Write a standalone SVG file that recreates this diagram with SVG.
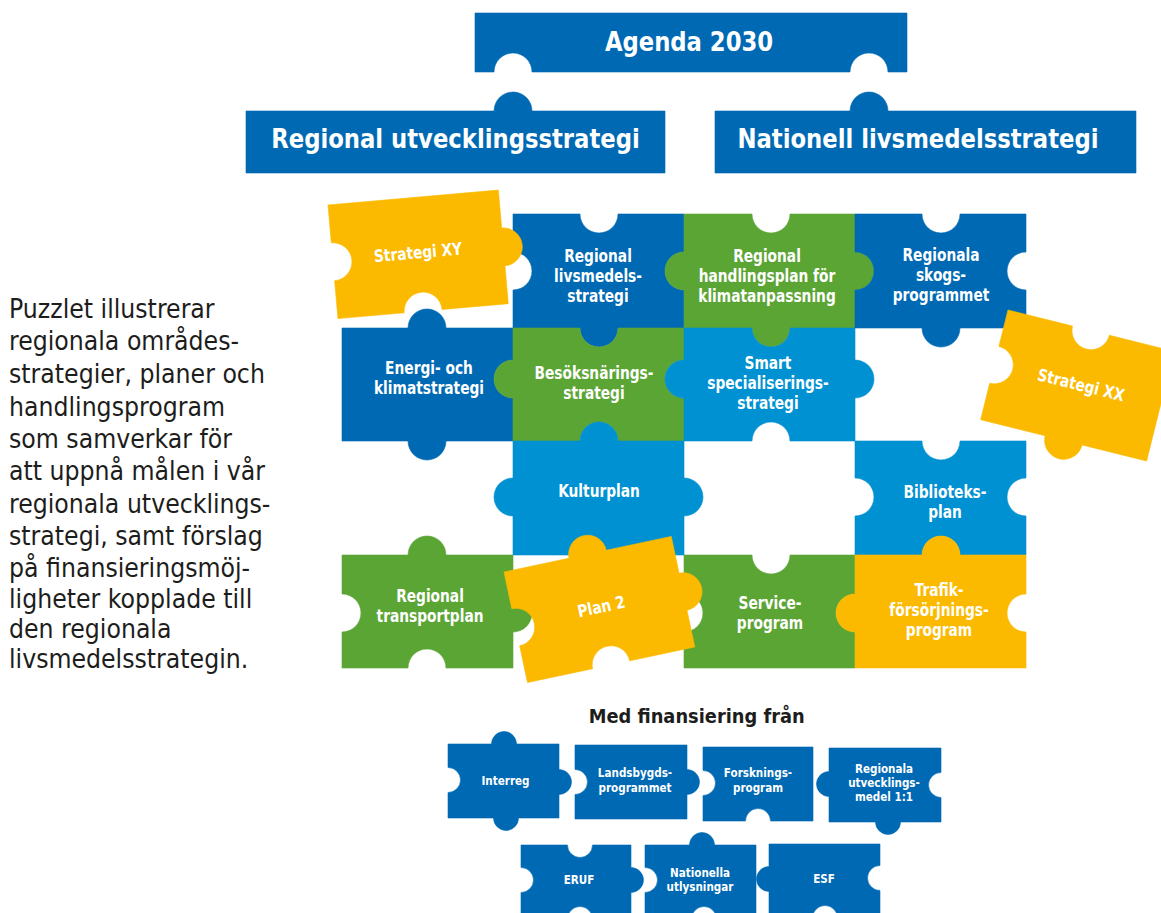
<svg xmlns="http://www.w3.org/2000/svg" width="1161" height="913" viewBox="0 0 1161 913">
<style>
.db{fill:#0069b4;stroke:#0069b4;stroke-width:.6}
.lb{fill:#0091d2;stroke:#0091d2;stroke-width:.6}
.gr{fill:#5ba535;stroke:#5ba535;stroke-width:.6}
.ye{fill:#fbba00;stroke:#fbba00;stroke-width:.6}
.t{font-family:"DejaVu Sans","Liberation Sans",sans-serif;font-weight:bold;fill:#fff;text-anchor:middle}
.big{font-size:26px}
.mid{font-size:17px}
.sm{font-size:13px}
.para{font-family:"DejaVu Sans","Liberation Sans",sans-serif;font-size:26.5px;fill:#1d1d1b}
.head{font-family:"DejaVu Sans","Liberation Sans",sans-serif;font-weight:bold;font-size:19.5px;fill:#1d1d1b;text-anchor:middle}
</style>
<rect width="1161" height="913" fill="#fff"/>

<g id="intro">
<text class="para" transform="translate(9 0) scale(.893 1)">
<tspan x="0" y="318">Puzzlet illustrerar</tspan>
<tspan x="0" y="350">regionala områdes-</tspan>
<tspan x="0" y="383">strategier, planer och</tspan>
<tspan x="0" y="416">handlingsprogram</tspan>
<tspan x="0" y="448">som samverkar för</tspan>
<tspan x="0" y="480">att uppnå målen i vår</tspan>
<tspan x="0" y="513">regionala utvecklings-</tspan>
<tspan x="0" y="545">strategi, samt förslag</tspan>
<tspan x="0" y="577">på finansieringsmöj-</tspan>
<tspan x="0" y="608">ligheter kopplade till</tspan>
<tspan x="0" y="638">den regionala</tspan>
<tspan x="0" y="668">livsmedelsstrategin.</tspan>
</text>
</g>

<g id="agenda2030">
<path class="db" d="M475 13 H907 V72 H888 A19 19 0 0 0 850 72 H532 A19 19 0 0 0 494 72 H475 Z"/>
<text class="t big" transform="translate(689 0) scale(.875 1)" x="0" y="51">Agenda 2030</text>
</g>
<g id="regional-utvecklingsstrategi">
<path class="db" d="M246 111 H494 A19 19 0 0 1 532 111 H665 V173 H246 Z"/>
<text class="t big" transform="translate(455.5 0) scale(.875 1)" x="0" y="148">Regional utvecklingsstrategi</text>
</g>
<g id="nationell-livsmedelsstrategi">
<path class="db" d="M715 111 H850 A19 19 0 0 1 888 111 H1136 V173 H715 Z"/>
<text class="t big" transform="translate(918 0) scale(.875 1)" x="0" y="148">Nationell livsmedelsstrategi</text>
</g>

<g id="connectors"></g>

<g id="regional-livsmedelsstrategi">
<path class="db" d="M513 214 H580 A19 19 0 0 0 618 214 H684 V252 A19 19 0 0 0 684 290 V328 H618 A19 19 0 0 1 580 328 H513 V290 A19 19 0 0 0 513 252 Z"/>
<text class="t mid" transform="translate(598 0) scale(.81 1)"><tspan x="0" y="262">Regional</tspan><tspan x="0" y="282">livsmedels-</tspan><tspan x="0" y="302">strategi</tspan></text>
</g>
<g id="handlingsplan-klimatanpassning">
<path class="gr" d="M684 214 H752 A19 19 0 0 0 790 214 H855 V252 A19 19 0 0 1 855 290 V328 H790 A19 19 0 0 1 752 328 H684 V290 A19 19 0 0 1 684 252 Z"/>
<text class="t mid" transform="translate(767 0) scale(.81 1)"><tspan x="0" y="262">Regional</tspan><tspan x="0" y="282">handlingsplan för</tspan><tspan x="0" y="302">klimatanpassning</tspan></text>
</g>
<g id="skogsprogrammet">
<path class="db" d="M855 214 H922 A19 19 0 0 0 960 214 H1026 V252 A19 19 0 0 0 1026 290 V328 H960 A19 19 0 0 1 922 328 H855 V290 A19 19 0 0 0 855 252 Z"/>
<text class="t mid" transform="translate(941 0) scale(.81 1)"><tspan x="0" y="261">Regionala</tspan><tspan x="0" y="281">skogs-</tspan><tspan x="0" y="301">programmet</tspan></text>
</g>
<g id="energi-klimatstrategi">
<path class="db" d="M342 328 H408 A19 19 0 0 1 446 328 H513 V360 A19 19 0 0 0 513 398 V441 H446 A19 19 0 0 1 408 441 H342 Z"/>
<text class="t mid" transform="translate(429 0) scale(.81 1)"><tspan x="0" y="374">Energi- och</tspan><tspan x="0" y="394">klimatstrategi</tspan></text>
</g>
<g id="besoksnaringsstrategi">
<path class="gr" d="M513 328 H580 A19 19 0 0 0 618 328 H684 V360 A19 19 0 0 0 684 398 V441 H618 A19 19 0 0 0 580 441 H513 V398 A19 19 0 0 1 513 360 Z"/>
<text class="t mid" transform="translate(594 0) scale(.81 1)"><tspan x="0" y="379">Besöksnärings-</tspan><tspan x="0" y="399">strategi</tspan></text>
</g>
<g id="smart-specialisering">
<path class="lb" d="M684 328 H752 A19 19 0 0 0 790 328 H855 V360 A19 19 0 0 1 855 398 V441 H790 A19 19 0 0 0 752 441 H684 V398 A19 19 0 0 1 684 360 Z"/>
<text class="t mid" transform="translate(768 0) scale(.81 1)"><tspan x="0" y="369">Smart</tspan><tspan x="0" y="389">specialiserings-</tspan><tspan x="0" y="409">strategi</tspan></text>
</g>
<g id="kulturplan">
<path class="lb" d="M513 441 H580 A19 19 0 0 1 618 441 H684 V478 A19 19 0 0 1 684 516 V555 H513 V516 A19 19 0 0 1 513 478 Z"/>
<text class="t mid" transform="translate(599 0) scale(.81 1)" x="0" y="497">Kulturplan</text>
</g>
<g id="biblioteksplan">
<path class="lb" d="M855 441 H922 A19 19 0 0 0 960 441 H1026 V478 A19 19 0 0 0 1026 516 V555 H960 A19 19 0 0 0 922 555 H855 V516 A19 19 0 0 0 855 478 Z"/>
<text class="t mid" transform="translate(945 0) scale(.81 1)"><tspan x="0" y="498">Biblioteks-</tspan><tspan x="0" y="518">plan</tspan></text>
</g>
<g id="regional-transportplan">
<path class="gr" d="M342 555 H408 A19 19 0 0 1 446 555 H513 V594 A19 19 0 0 1 513 632 V668 H446 A19 19 0 0 0 408 668 H342 V632 A19 19 0 0 0 342 594 Z"/>
<text class="t mid" transform="translate(430 0) scale(.81 1)"><tspan x="0" y="602">Regional</tspan><tspan x="0" y="622">transportplan</tspan></text>
</g>
<g id="serviceprogram">
<path class="gr" d="M684 555 H752 A19 19 0 0 0 790 555 H855 V594 A19 19 0 0 0 855 632 V668 H684 V632 A19 19 0 0 0 684 594 Z"/>
<text class="t mid" transform="translate(770 0) scale(.81 1)"><tspan x="0" y="609">Service-</tspan><tspan x="0" y="629">program</tspan></text>
</g>
<g id="trafikforsorjningsprogram">
<path class="ye" d="M855 555 H922 A19 19 0 0 1 960 555 H1026 V594 A19 19 0 0 0 1026 632 V668 H855 V632 A19 19 0 0 1 855 594 Z"/>
<text class="t mid" transform="translate(939 0) scale(.81 1)"><tspan x="0" y="596">Trafik-</tspan><tspan x="0" y="616">försörjnings-</tspan><tspan x="0" y="636">program</tspan></text>
</g>

<g id="strategi-xy" transform="translate(328 205) rotate(-5)">
<path class="ye" d="M0 0 H171 V38 A19 19 0 0 1 171 76 V114 H104.5 A19 19 0 0 0 66.5 114 H0 V76 A19 19 0 0 0 0 38 Z"/>
<text class="t mid" transform="translate(85.5 0) scale(.81 1)" x="0" y="61">Strategi XY</text>
</g>
<g id="strategi-xx" transform="translate(1008 310) rotate(14)">
<path class="ye" d="M0 0 H66.5 A19 19 0 0 0 104.5 0 H171 V113 H104.5 A19 19 0 0 1 66.5 113 H0 V75.5 A19 19 0 0 0 0 37.5 Z"/>
<text class="t mid" transform="translate(89 0) scale(.81 1)" x="0" y="61">Strategi XX</text>
</g>
<g id="plan-2" transform="translate(504 572) rotate(-12)">
<path class="ye" d="M0 0 H66.5 A19 19 0 0 1 104.5 0 H171 V37.5 A19 19 0 0 1 171 75.5 V113 H104.5 A19 19 0 0 0 66.5 113 H0 V75.5 A19 19 0 0 0 0 37.5 Z"/>
<text class="t mid" transform="translate(88 0) scale(.81 1)" x="0" y="60">Plan 2</text>
</g>

<g id="finansiering-rubrik">
<text class="head" transform="translate(696.7 0) scale(.915 1)" x="0" y="723">Med finansiering från</text>
</g>
<g id="interreg">
<path class="db" d="M448 744 H491.5 A12.5 12.5 0 0 1 516.5 744 H559 V769.5 A12.5 12.5 0 0 1 559 794.5 V818 H518.5 A12.5 12.5 0 0 1 493.5 818 H448 V792.5 A12.5 12.5 0 0 0 448 767.5 Z"/>
<text class="t sm" transform="translate(505.5 0) scale(.8 1)" x="0" y="785">Interreg</text>
</g>
<g id="landsbygdsprogrammet">
<path class="db" d="M575 745 H687 V769.5 A12.5 12.5 0 0 1 687 794.5 V819 H575 V794.5 A12.5 12.5 0 0 0 575 769.5 Z"/>
<text class="t sm" transform="translate(635 0) scale(.8 1)"><tspan x="0" y="777">Landsbygds-</tspan><tspan x="0" y="792">programmet</tspan></text>
</g>
<g id="forskningsprogram">
<path class="db" d="M703 747 H813 V821 H770.5 A12.5 12.5 0 0 0 745.5 821 H703 V795.5 A12.5 12.5 0 0 0 703 770.5 Z"/>
<text class="t sm" transform="translate(758 0) scale(.8 1)"><tspan x="0" y="777">Forsknings-</tspan><tspan x="0" y="792">program</tspan></text>
</g>
<g id="regionala-utvecklingsmedel">
<path class="db" d="M829 748 H941 V772.5 A12.5 12.5 0 0 0 941 797.5 V822 H900.5 A12.5 12.5 0 0 1 875.5 822 H829 V796.5 A12.5 12.5 0 0 1 829 771.5 Z"/>
<text class="t sm" transform="translate(884 0) scale(.8 1)"><tspan x="0" y="773">Regionala</tspan><tspan x="0" y="787">utvecklings-</tspan><tspan x="0" y="801">medel 1:1</tspan></text>
</g>
<g id="eruf">
<path class="db" d="M521 845 H567.5 A12.5 12.5 0 0 0 592.5 845 H631 V867.5 A12.5 12.5 0 0 1 631 892.5 V919 H592.5 A12.5 12.5 0 0 0 567.5 919 H521 V892.5 A12.5 12.5 0 0 0 521 867.5 Z"/>
<text class="t sm" transform="translate(579 0) scale(.8 1)" x="0" y="884">ERUF</text>
</g>
<g id="nationella-utlysningar">
<path class="db" d="M645 845 H689.5 A12.5 12.5 0 0 1 714.5 845 H756 V919 H716.5 A12.5 12.5 0 0 0 691.5 919 H645 V892.5 A12.5 12.5 0 0 0 645 867.5 Z"/>
<text class="t sm" transform="translate(700 0) scale(.8 1)"><tspan x="0" y="877">Nationella</tspan><tspan x="0" y="891">utlysningar</tspan></text>
</g>
<g id="esf">
<path class="db" d="M769 844 H880 V865.5 A12.5 12.5 0 0 0 880 890.5 V918 H837.5 A12.5 12.5 0 0 0 812.5 918 H769 V891.5 A12.5 12.5 0 0 1 769 866.5 Z"/>
<text class="t sm" transform="translate(824 0) scale(.8 1)" x="0" y="883">ESF</text>
</g>
</svg>
